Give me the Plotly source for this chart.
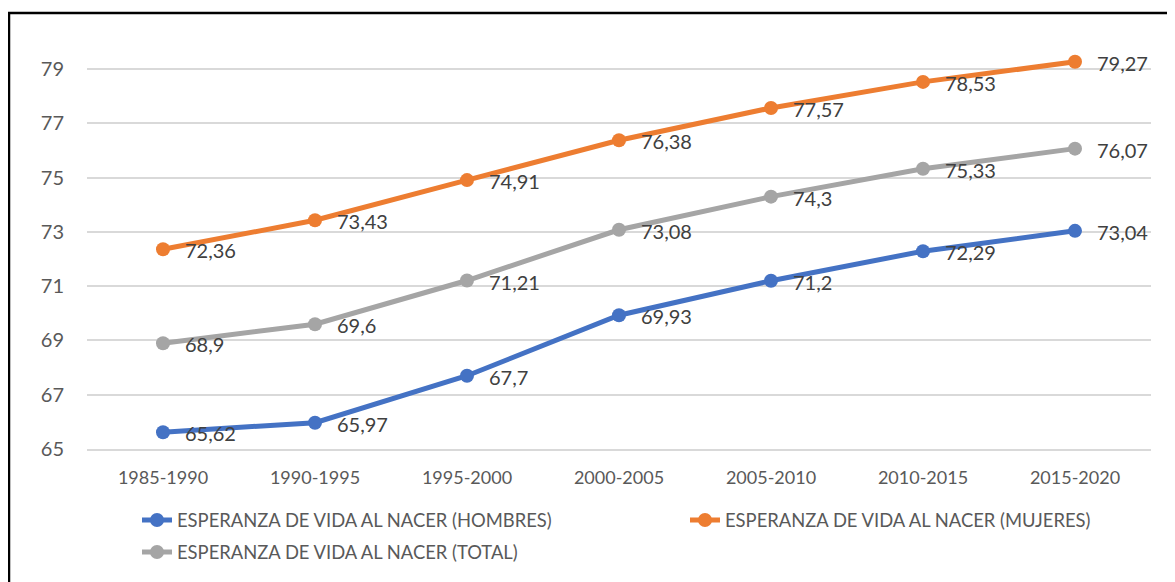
import plotly.graph_objects as go

categories = ["1985-1990", "1990-1995", "1995-2000", "2000-2005", "2005-2010", "2010-2015", "2015-2020"]
hombres = [65.62, 65.97, 67.7, 69.93, 71.2, 72.29, 73.04]
mujeres = [72.36, 73.43, 74.91, 76.38, 77.57, 78.53, 79.27]
total = [68.9, 69.6, 71.21, 73.08, 74.3, 75.33, 76.07]
y_ticks = [65, 67, 69, 71, 73, 75, 77, 79]

series = [
    ("ESPERANZA DE VIDA AL NACER (HOMBRES)", hombres, "#4472C4", "legend"),
    ("ESPERANZA DE VIDA AL NACER (MUJERES)", mujeres, "#ED7D31", "legend2"),
    ("ESPERANZA DE VIDA AL NACER (TOTAL)", total, "#A5A5A5", "legend3"),
]

FONT = "Lato"
W, H = 1175, 582
OFF = 8  # page body margin
ML, MT = 87 - OFF, 42 - OFF
PR, PB = 1151 - OFF, 449 - OFF
MR, MB = W - PR, H - PB
PW, PH = W - ML - MR, H - MT - MB


def px_x(x):
    return (x - OFF - ML) / PW


def px_y(y):
    return (H - MB - (y - OFF)) / PH


fig = go.Figure()
annotations = []
for name, vals, color, leg in series:
    fig.add_trace(go.Scatter(
        x=categories, y=vals, name=name, mode="lines+markers",
        line=dict(color=color, width=5),
        marker=dict(color=color, size=14),
        legend=leg,
    ))
    for c, v in zip(categories, vals):
        annotations.append(dict(
            x=c, y=v, xref="x", yref="y", text=f"{v:g}".replace(".", ","),
            showarrow=False, xanchor="left", yanchor="middle", xshift=20, yshift=-1,
            font=dict(family=FONT, size=20, color="#404040"),
        ))

legend_font = dict(family=FONT, size=18.4, color="#595959")


def leg(x_text, y_mid):
    return dict(
        orientation="h", x=px_x(x_text - 42), xanchor="left", y=px_y(y_mid), yanchor="middle",
        font=legend_font, bgcolor="rgba(0,0,0,0)",
    )


fig.update_layout(
    width=W, height=H,
    margin=dict(l=ML, r=MR, t=MT, b=MB, autoexpand=False),
    paper_bgcolor="white", plot_bgcolor="white",
    showlegend=True,
    legend=leg(179, 520),
    legend2=leg(727, 520),
    legend3=leg(179, 552),
    annotations=annotations,
    xaxis=dict(
        type="category", range=[-0.5, len(categories) - 0.5],
        showgrid=False, showline=True, linecolor="#D9D9D9", linewidth=1.5,
        ticks="outside", ticklen=12, tickcolor="rgba(0,0,0,0)",
        tickfont=dict(family=FONT, size=18, color="#595959"),
    ),
    yaxis=dict(
        range=[65, 80], tickvals=y_ticks, ticktext=[str(t) for t in y_ticks],
        showgrid=True, gridcolor="#D9D9D9", gridwidth=1.5, zeroline=False,
        ticks="outside", ticklen=18, tickcolor="rgba(0,0,0,0)",
        tickfont=dict(family=FONT, size=20, color="#595959"),
    ),
    shapes=[dict(
        type="rect", xref="paper", yref="paper",
        x0=px_x(9), x1=px_x(1200),
        y0=px_y(H + 30), y1=px_y(13),
        line=dict(color="black", width=2.5), fillcolor="rgba(0,0,0,0)", layer="below",
    )],
)

fig.write_html("out.html")
